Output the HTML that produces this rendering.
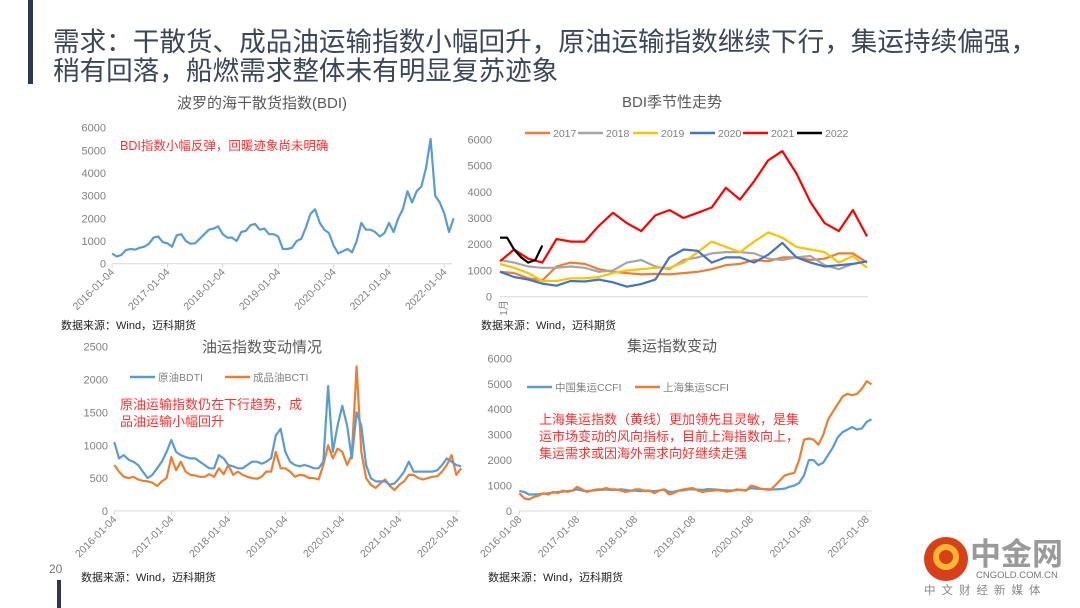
<!DOCTYPE html>
<html><head><meta charset="utf-8"><style>
html,body{margin:0;padding:0;background:#fff;}
svg{display:block;font-family:"Liberation Sans","Noto Sans CJK SC",sans-serif;}
</style></head><body>
<svg id="s" width="1080" height="608" viewBox="0 0 1080 608" xmlns="http://www.w3.org/2000/svg">
<rect x="28" y="0" width="5" height="84" fill="#2e3650"/>
<text x="53" y="51" font-size="26.6" fill="#3d4559">需求：干散货、成品油运输指数小幅回升，原油运输指数继续下行，集运持续偏强，</text>
<text x="53" y="80" font-size="26.6" fill="#3d4559">稍有回落，船燃需求整体未有明显复苏迹象</text>
<text x="49" y="573" font-size="12" fill="#777">20</text>
<rect x="57" y="580" width="4" height="28" fill="#2e3650"/>
<g id="g1"></g>
<g id="g2"></g>
<g id="g3"></g>
<g id="g4"></g>
<g>
<circle cx="946" cy="559" r="22" fill="#d8401c"/>
<circle cx="946" cy="557" r="10" fill="none" stroke="#f7b733" stroke-width="6"/>
<text x="970" y="565" font-size="31" font-weight="bold" fill="#9a9a9a">中金网</text>
<text x="976" y="578" font-size="9.5" fill="#777">CNGOLD.COM.CN</text>
<text x="924" y="594" font-size="11.5" fill="#888" letter-spacing="6">中文财经新媒体</text>
</g>
</svg>
<script>
// ---- Chart 1 data (BDI monthly, from 2016-01) ----
const bdiYears = ['2016-01-04','2017-01-04','2018-01-04','2019-01-04','2020-01-04','2021-01-04','2022-01-04'];
const bdiTicks = [0,1000,2000,3000,4000,5000,6000];
const bdiValues = [450,320,380,600,650,620,700,750,880,1150,1200,950,
 900,750,1250,1300,1000,880,900,1100,1300,1500,1550,1650,
 1300,1150,1150,1000,1400,1450,1700,1750,1500,1550,1300,1300,
 1200,650,650,700,1000,1100,1600,2200,2400,1800,1500,1350,
 800,450,550,650,500,1000,1800,1500,1500,1400,1200,1350,
 1800,1400,2000,2400,3200,2700,3200,3400,4200,5500,3000,2700,
 2200,1400,2000];
// ---- Chart 2 data (seasonal, biweekly) ----
const seasonYears = ['2017','2018','2019','2020','2021','2022'];
const seasonTicks = [0,1000,2000,3000,4000,5000,6000];
const s2017 = [950,900,700,620,1150,1300,1250,1050,950,900,850,870,850,900,950,1050,1200,1250,1400,1350,1500,1500,1400,1450,1650,1650,1300];
const s2018 = [1400,1300,1150,1100,1100,1150,1100,950,1000,1300,1400,1150,1050,1400,1500,1650,1700,1700,1650,1450,1400,1500,1550,1200,1050,1250,1350];
const s2019 = [1250,1100,900,600,600,700,700,750,900,1000,1050,1100,1100,1300,1700,2100,1900,1700,2100,2450,2250,1900,1800,1700,1300,1550,1100];
const s2020 = [950,750,650,500,420,600,580,650,550,380,480,650,1500,1800,1750,1300,1500,1500,1300,1600,2050,1500,1300,1150,1200,1250,1350];
const s2021 = [1350,1800,1450,1300,2200,2100,2100,2700,3200,2800,2500,3100,3300,3000,3200,3400,4150,3700,4400,5200,5550,4700,3600,2800,2500,3300,2300];
const s2022 = [2250,2250,1800,1500,1300,1400,1950];
// ---- Chart 3 data (tanker monthly) ----
const oilYears = bdiYears;
const oilTicks = [0,500,1000,1500,2000,2500];
const bdti = [1050,800,850,780,750,700,600,500,550,650,750,900,
 1080,900,850,820,800,800,750,700,650,650,850,800,
 700,680,650,650,700,750,750,720,750,800,1150,1250,
 900,750,700,680,700,680,650,650,750,1900,900,1300,
 1600,1300,800,1500,1300,700,500,450,450,450,400,420,
 500,600,750,600,600,600,600,600,620,700,800,750,
 700,680];
const bcti = [700,600,520,500,520,480,460,450,430,380,450,500,
 820,620,750,600,550,540,520,520,560,520,650,560,
 700,550,600,550,520,500,490,520,600,600,900,650,
 650,600,520,550,540,500,500,480,700,1000,800,950,
 900,700,850,2200,900,500,400,350,420,480,380,320,
 400,450,550,550,500,480,500,520,530,600,700,850,
 550,650];
// ---- Chart 4 data (container monthly) ----
const boxYears = ['2016-01-08','2017-01-08','2018-01-08','2019-01-08','2020-01-08','2021-01-08','2022-01-08'];
const boxTicks = [0,1000,2000,3000,4000,5000,6000];
const ccfi = [780,750,650,650,660,680,700,720,750,760,780,800,
 850,800,780,800,820,830,850,820,830,850,830,800,
 800,780,800,790,780,800,850,750,760,800,810,850,
 850,840,830,860,850,840,820,810,800,820,830,820,
 900,880,870,860,850,850,860,880,950,1000,1100,1400,
 2000,2000,1800,1900,2200,2500,2900,3100,3200,3300,3200,3250,
 3500,3600];
const scfi = [700,500,450,550,600,700,650,750,700,800,750,800,
 950,850,750,800,850,850,900,850,850,800,750,780,
 850,850,780,800,700,800,850,650,700,800,850,880,
 900,800,750,780,800,820,800,760,780,850,820,800,
 1000,950,880,850,830,1000,1200,1400,1450,1500,2000,2800,
 2850,2800,2600,3000,3600,3900,4200,4500,4600,4550,4600,4800,
 5100,4980];

const NS='http://www.w3.org/2000/svg';
function el(parent,tag,attrs,txt){const e=document.createElementNS(NS,tag);for(const k in attrs)e.setAttribute(k,attrs[k]);if(txt!==undefined)e.textContent=txt;parent.appendChild(e);return e;}

function axes(g,x0,x1,y0,yTop,ticks,labelX){
  const max=ticks[ticks.length-1];
  const ys=v=>y0-(v/max)*(y0-yTop);
  ticks.forEach(t=>{
    const tl=el(g,'text',{x:labelX,y:ys(t)+4,'font-size':11,fill:'#7f7f7f','text-anchor':'end'},t);
    
    
  });
  const ax=el(g,'line',{x1:x0,x2:x1,y1:y0,y2:y0,stroke:'#d9d9d9','stroke-width':1});
  
  
  return ys;
}
function xLabels(g,labels,xs,y0){
  labels.forEach((l,i)=>{
    const x=xs(i*12);
    const tk=el(g,'line',{x1:x,x2:x,y1:y0,y2:y0+4,stroke:'#d9d9d9'});
    
    
    const t=el(g,'text',{x:x+3,y:y0+9,'font-size':10.5,fill:'#7f7f7f','text-anchor':'end',transform:`rotate(-45 ${x+3} ${y0+9})`},l);
    
    
  });
}
function line(g,vals,xs,ys,color,name,w){
  const d=vals.map((v,i)=>(i?'L':'M')+xs(i).toFixed(1)+','+ys(v).toFixed(1)).join('');
  const p=el(g,'path',{d:d,fill:'none',stroke:color,'stroke-width':w||2.2,'stroke-linejoin':'round'});
  
  
}
function text(g,x,y,s,size,color,name,anchor){
  const t=el(g,'text',{x:x,y:y,'font-size':size,fill:color,'text-anchor':anchor||'start'},s);
  
  
}
function legend(g,x,y,color,label){
  const l=el(g,'line',{x1:x,x2:x+25,y1:y,y2:y,stroke:color,'stroke-width':2.5});
  
  
  text(g,x+28,y+4,label,10.5,'#7f7f7f','legend-entry');
}

// Chart 1
(function(){
  const g=document.getElementById('g1');
  text(g,262,108,'波罗的海干散货指数(BDI)',15,'#595959','chart-title','middle');
  const ys=axes(g,112,452,263.7,127.7,bdiTicks,106);
  const xs=i=>112+i*55.4/12;
  xLabels(g,bdiYears,xs,263.7);
  line(g,bdiValues,xs,ys,'#5b9bd5','bdi-line');
  text(g,120,150,'BDI指数小幅反弹，回暖迹象尚未明确',12.5,'#ff3030','annotation');
  text(g,61,329,'数据来源：Wind，迈科期货',11,'#222','source-note');
})();
// Chart 2
(function(){
  const g=document.getElementById('g2');
  text(g,672,107,'BDI季节性走势',15,'#595959','chart-title','middle');
  const ys=axes(g,500,868,296.7,139.3,seasonTicks,492);
  const step=367/26;
  const xs=i=>500+i*step;
  const tl=el(g,'text',{x:503,y:312,'font-size':10,fill:'#7f7f7f','text-anchor':'middle',transform:'rotate(-90 503 308)'},'1月');
  
  
  const cols=['#ed7d31','#a5a5a5','#ffc000','#4472c4','#ff0000','#000000'];
  const series=[s2017,s2018,s2019,s2020,s2021];
  series.forEach((s,k)=>line(g,s,xs,ys,cols[k],'series-'+seasonYears[k]));
  line(g,s2022,i=>500+i*step*0.5,ys,cols[5],'series-2022');
  const lx=[525,578,633,690,743,797];
  seasonYears.forEach((y,k)=>legend(g,lx[k],133,cols[k],y));
  text(g,481,329,'数据来源：Wind，迈科期货',11,'#222','source-note');
})();
// Chart 3
(function(){
  const g=document.getElementById('g3');
  text(g,262,352,'油运指数变动情况',15,'#595959','chart-title','middle');
  const ys=axes(g,114,460,511,346.7,oilTicks,108);
  const xs=i=>114.3+i*57/12;
  xLabels(g,oilYears,xs,511);
  line(g,bcti,xs,ys,'#ed7d31','bcti-line');
  line(g,bdti,xs,ys,'#5b9bd5','bdti-line');
  legend(g,130,377,'#5b9bd5','原油BDTI');
  legend(g,225,377,'#ed7d31','成品油BCTI');
  text(g,120,409,'原油运输指数仍在下行趋势，成',13,'#ff3030','annotation-line1');
  text(g,120,426,'品油运输小幅回升',13,'#ff3030','annotation-line2');
  text(g,81,581,'数据来源：Wind，迈科期货',11,'#222','source-note');
})();
// Chart 4
(function(){
  const g=document.getElementById('g4');
  text(g,672,351,'集运指数变动',15,'#595959','chart-title','middle');
  const ys=axes(g,519,872,511,358.3,boxTicks,512);
  const xs=i=>519.3+i*57.9/12;
  xLabels(g,boxYears,xs,511);
  line(g,ccfi,xs,ys,'#5b9bd5','ccfi-line');
  line(g,scfi,xs,ys,'#ed7d31','scfi-line');
  legend(g,527,387,'#5b9bd5','中国集运CCFI');
  legend(g,635,387,'#ed7d31','上海集运SCFI');
  text(g,539,424,'上海集运指数（黄线）更加领先且灵敏，是集',13,'#ff3030','annotation-line1');
  text(g,539,441,'运市场变动的风向指标，目前上海指数向上，',13,'#ff3030','annotation-line2');
  text(g,539,458,'集运需求或因海外需求向好继续走强',13,'#ff3030','annotation-line3');
  text(g,488,581,'数据来源：Wind，迈科期货',11,'#222','source-note');
})();
</script>
</body></html>
